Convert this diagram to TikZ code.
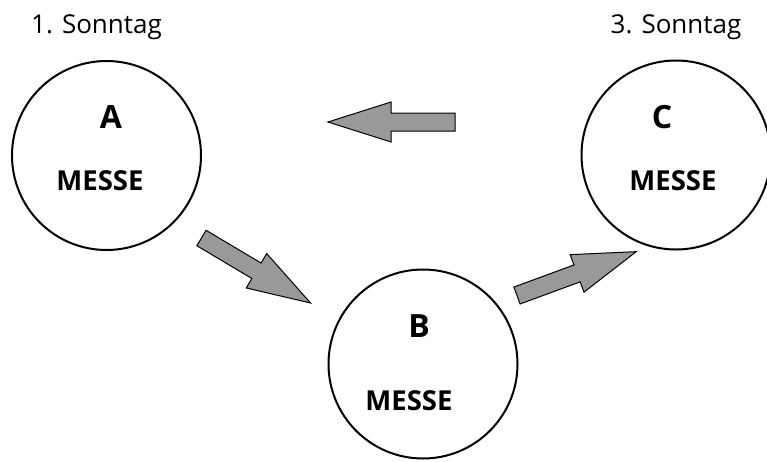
\documentclass[tikz,border=0pt]{standalone}
\usepackage{fontspec}
\setmainfont{Open Sans}
\begin{document}
\begin{tikzpicture}[x=1pt,y=-1pt,
  ring/.style={circle,draw=black,line width=2pt,minimum size=189pt,inner sep=0pt},
  letter/.style={anchor=base,inner sep=0pt,font=\fontsize{32}{32}\selectfont\bfseries},
  word/.style={anchor=base,inner sep=0pt,font=\fontsize{27.5}{27.5}\selectfont\bfseries},
  daylabel/.style={anchor=base,inner sep=0pt,font=\fontsize{26}{26}\selectfont},
  blockarrow/.pic={\draw[fill=arrowgray,line width=1pt,line join=miter]
     (0,-9)--(64,-9)--(64,-20)--(127,0)--(64,20)--(64,9)--(0,9)--cycle;}]
\definecolor{arrowgray}{RGB}{153,153,153}
\useasboundingbox (0,0) rectangle (767,461);
\node[ring] (A) at (106.5,155.5) {};
\node[ring] (B) at (423,364) {};
\node[ring] (C) at (676,155) {};
\node[letter] (Al) at (111,128) {A};
\node[word] (Aw) at (100,190) {MESSE};
\node[letter] (Bl) at (419,337) {B};
\node[word] (Bw) at (409,410) {MESSE};
\node[letter] (Cl) at (662,128) {C};
\node[word] (Cw) at (673,190) {MESSE};
\node[daylabel] (d1) at (96.5,33) {1. Sonntag};
\node[daylabel] (d3) at (676,33) {3. Sonntag};
\pic at (201.5,238) [rotate=-30.8] {blockarrow};
\pic at (517,295.5) [rotate=20.2] {blockarrow};
\pic at (455,122) [rotate=180] {blockarrow};
\end{tikzpicture}
\end{document}
